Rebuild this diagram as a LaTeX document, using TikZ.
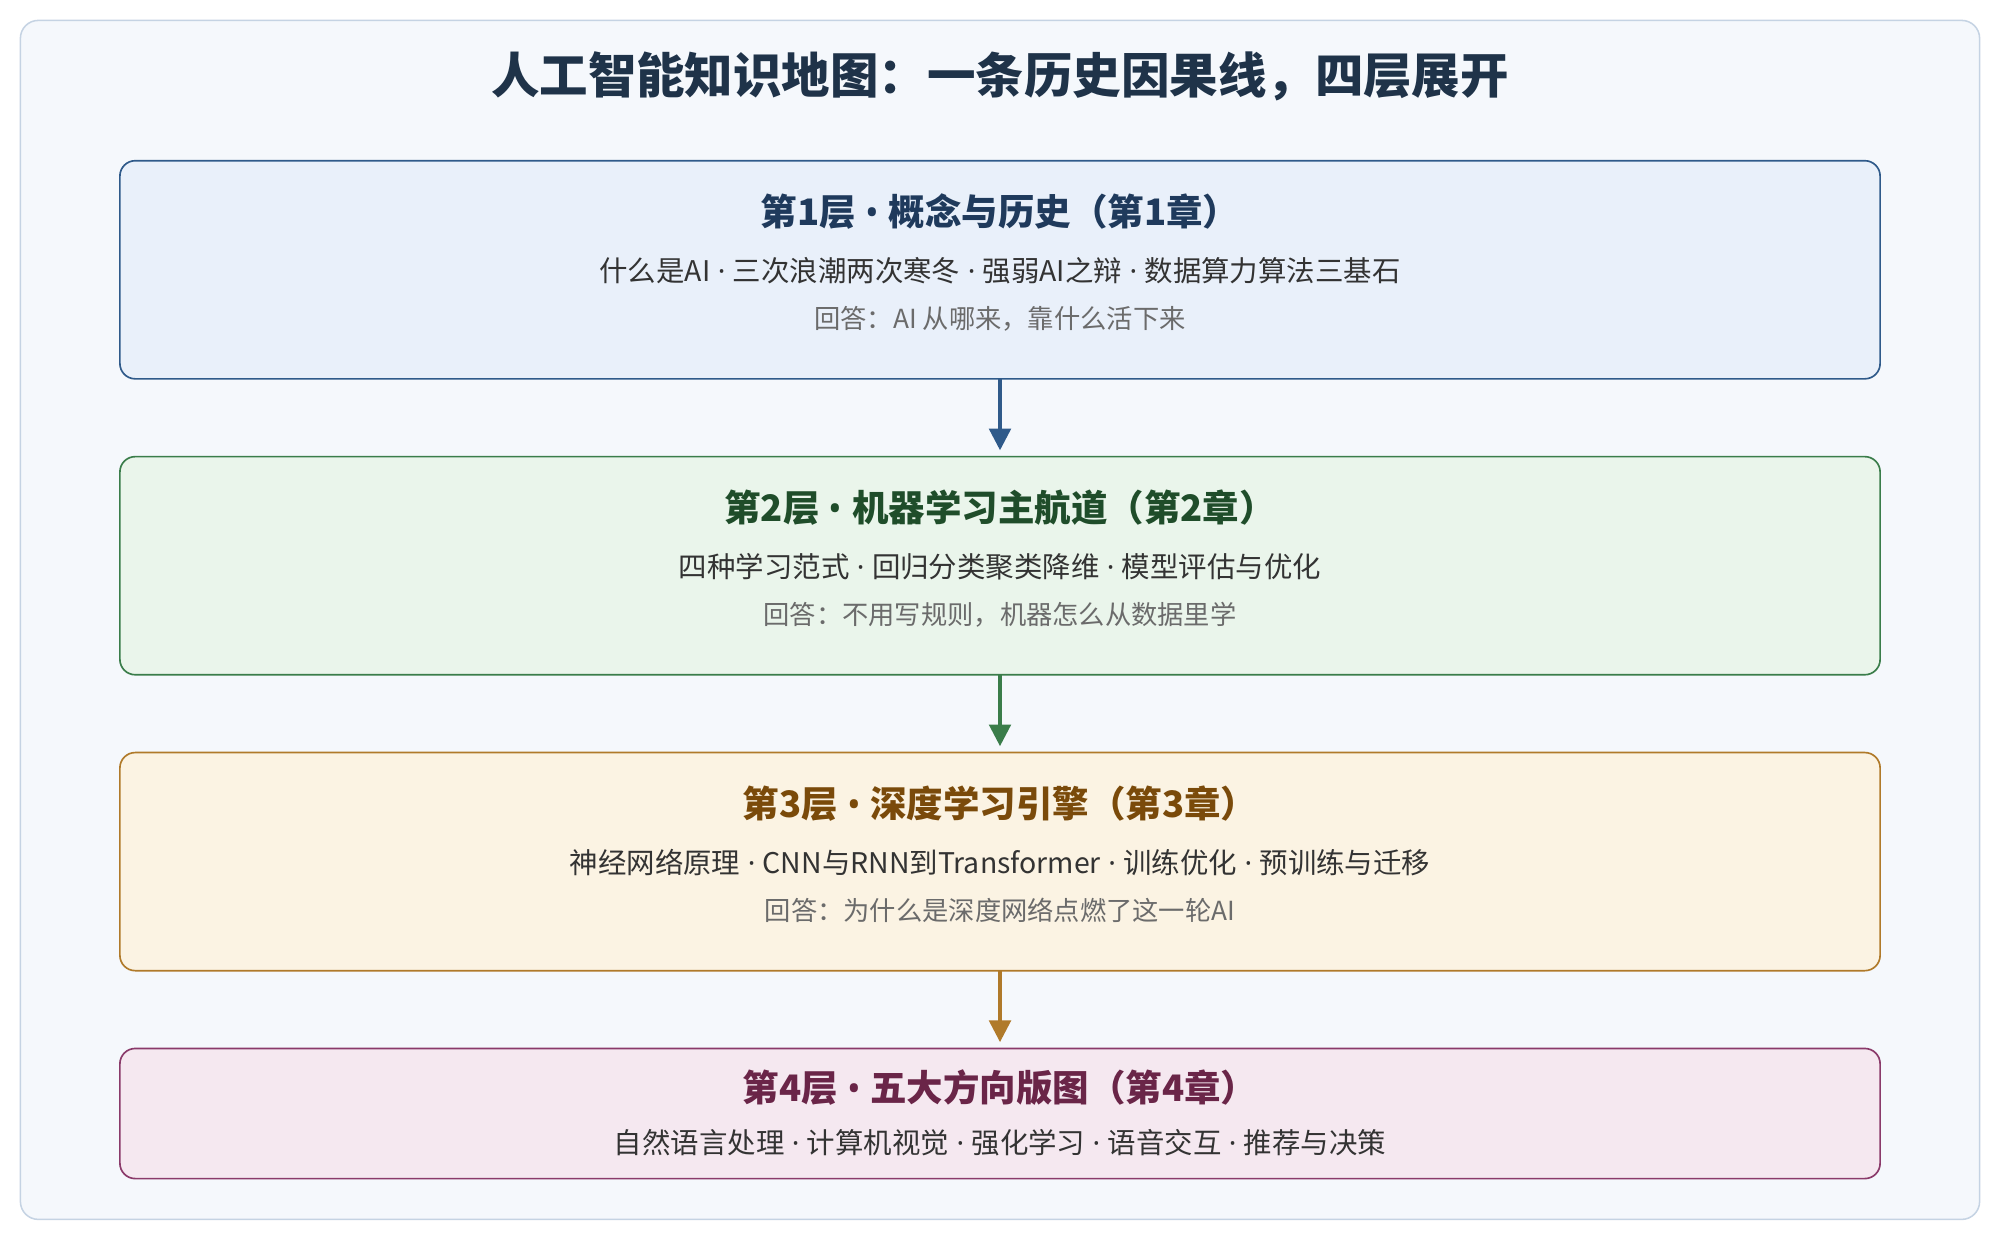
\documentclass[tikz,border=0pt]{standalone}
\usepackage{fontspec}
\setmainfont{Noto Sans CJK SC}
\newfontfamily\lat{Noto Sans}
\newcommand{\sepd}{{\lat\ ·\ }}
\newcommand{\sepb}{{\lat\ \bfseries •\ }}
\usetikzlibrary{arrows.meta}
\definecolor{bgc}{HTML}{F5F8FC}\definecolor{bgb}{HTML}{C5D3E3}
\definecolor{ttl}{HTML}{1F3349}
\definecolor{f1}{HTML}{E9F0FA}\definecolor{b1}{HTML}{2F5A8A}\definecolor{h1}{HTML}{1F3A5C}
\definecolor{f2}{HTML}{EAF5EB}\definecolor{b2}{HTML}{3A7D4A}\definecolor{h2}{HTML}{1F4D2A}
\definecolor{f3}{HTML}{FBF3E3}\definecolor{b3}{HTML}{B07A2A}\definecolor{h3}{HTML}{7A4A0A}
\definecolor{f4}{HTML}{F5E8F0}\definecolor{b4}{HTML}{8A3A6A}\definecolor{h4}{HTML}{6A2548}
\definecolor{bodyc}{HTML}{333333}\definecolor{ansc}{HTML}{6B6B6B}
\begin{document}
\begin{tikzpicture}[x=1pt,y=-1pt,
 box/.style={rounded corners=12pt,line width=1.3pt},
 head/.style={font=\fontsize{28.6}{32}\selectfont\bfseries},
 body/.style={font=\fontsize{22.3}{25}\selectfont,text=bodyc},
 ans/.style={font=\fontsize{20.6}{23}\selectfont,text=ansc},
 arr/.style={line width=2.6pt,-{Triangle[length=17pt,width=17pt]}}]
\useasboundingbox (0,0) rectangle (1568,972);
\draw[rounded corners=14pt,fill=bgc,draw=bgb,line width=1.2pt] (16,16) rectangle (1552,956);
\node[font=\fontsize{38}{42}\selectfont\bfseries,text=ttl] (title) at (784,60) {人工智能知识地图：一条历史因果线，四层展开};
\draw[box,fill=f1,draw=b1] (94,126) rectangle (1474,297);
\coordinate (l1t) at (784,126);\coordinate (l1b) at (784,297);
\node[head,text=h1] (h1) at (784,166) {第1层\sepb 概念与历史（第1章）};
\node[body] (t1) at (784,212) {什么是AI\sepd 三次浪潮两次寒冬\sepd 强弱AI之辩\sepd 数据算力算法三基石};
\node[ans] (a1) at (784,250) {回答：AI 从哪来，靠什么活下来};
\draw[box,fill=f2,draw=b2] (94,358) rectangle (1474,529);
\coordinate (l2t) at (784,358);\coordinate (l2b) at (784,529);
\node[head,text=h2] (h2) at (784,398) {第2层\sepb 机器学习主航道（第2章）};
\node[body] (t2) at (784,444) {四种学习范式\sepd 回归分类聚类降维\sepd 模型评估与优化};
\node[ans] (a2) at (784,482) {回答：不用写规则，机器怎么从数据里学};
\draw[box,fill=f3,draw=b3] (94,590) rectangle (1474,761);
\coordinate (l3t) at (784,590);\coordinate (l3b) at (784,761);
\node[head,text=h3] (h3) at (784,630) {第3层\sepb 深度学习引擎（第3章）};
\node[body] (t3) at (784,676) {神经网络原理\sepd CNN与RNN到Transformer\sepd 训练优化\sepd 预训练与迁移};
\node[ans] (a3) at (784,714) {回答：为什么是深度网络点燃了这一轮AI};
\draw[box,fill=f4,draw=b4] (94,822) rectangle (1474,924);
\coordinate (l4t) at (784,822);
\node[head,text=h4] (h4) at (784,853) {第4层\sepb 五大方向版图（第4章）};
\node[body] (t4) at (784,896) {自然语言处理\sepd 计算机视觉\sepd 强化学习\sepd 语音交互\sepd 推荐与决策};
\draw[arr,b1] (l1b) -- ([yshift=5pt]l2t);
\draw[arr,b2] (l2b) -- ([yshift=5pt]l3t);
\draw[arr,b3] (l3b) -- ([yshift=5pt]l4t);
\end{tikzpicture}
\end{document}
